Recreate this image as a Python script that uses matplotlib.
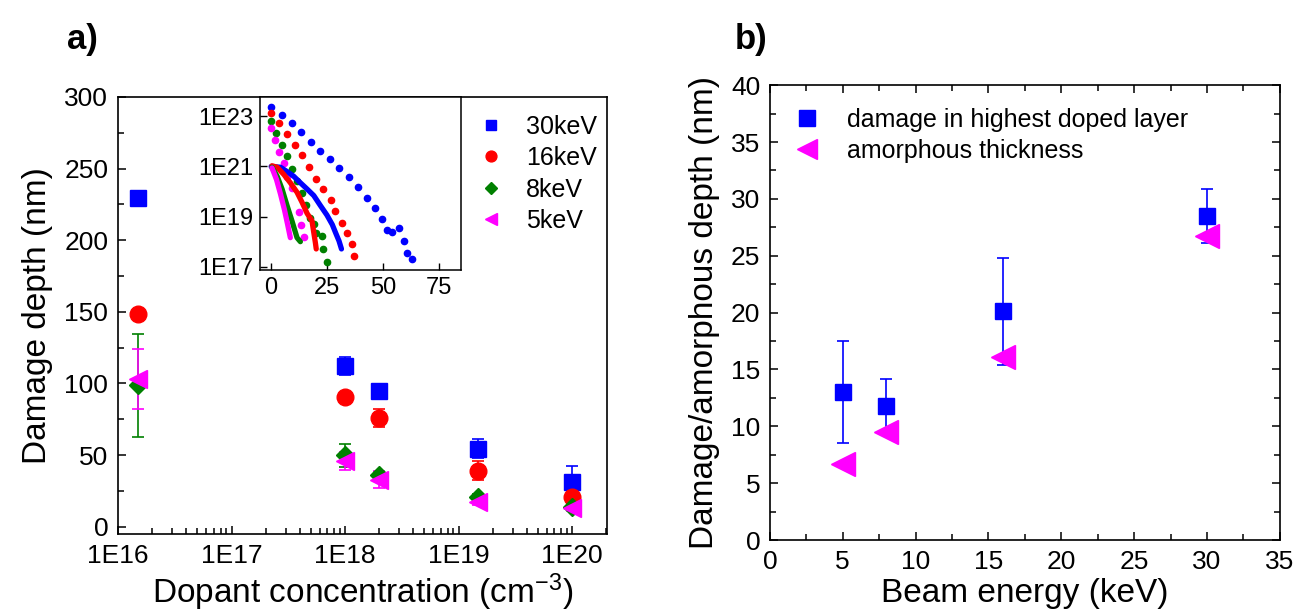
import numpy as np
import matplotlib
matplotlib.use('Agg')
import matplotlib.pyplot as plt
from matplotlib.lines import Line2D
from matplotlib.ticker import FuncFormatter, FixedLocator, MultipleLocator, LogLocator, NullFormatter

plt.rcParams['font.family'] = ['Liberation Sans', 'DejaVu Sans']
plt.rcParams['mathtext.default'] = 'regular'

# --- (a) damage depth vs dopant concentration ---
conc = [1.5e16, 1e18, 2e18, 1.5e19, 1e20]
depth_30 = [229.6, 112.2, 94.4, 54.5, 31.5]
err_30 = [0, 6.5, 0, 6.5, 11]
depth_16 = [148.5, 90.8, 75.8, 39.2, 21.0]
err_16 = [0, 0, 6.5, 6.7, 0]
depth_8 = [98.6, 49.8, 36.4, 21.1, 14.0]
err_8 = [36, 8, 2, 2, 2]
depth_5 = [103.0, 45.8, 32.9, 17.1, 13.0]
err_5 = [21, 6.5, 6, 2, 2]

# inset: simulated profiles (dots) and measured profiles (lines), depth in nm
sim30_x = [0, 4.8, 9.3, 13.4, 17.8, 22.1, 26.3, 30.4, 34.8, 39.1, 42.8, 46.3, 49.7, 51.8, 54.0, 57.3, 59.4, 61.0, 63.0]
sim30_log = [23.37, 23.05, 22.72, 22.36, 21.99, 21.63, 21.28, 20.92, 20.57, 20.2, 19.76, 19.33, 18.89, 18.47, 18.4, 18.53, 18.03, 17.56, 17.32]
sim16_x = [0, 3.7, 7.3, 10.6, 13.9, 17.0, 20.1, 23.4, 26.6, 28.7, 31.9, 34.0, 36.0, 37.3]
sim16_log = [23.13, 22.72, 22.29, 21.87, 21.44, 20.97, 20.52, 20.09, 19.67, 19.24, 18.76, 18.33, 17.91, 17.44]
sim8_x = [0, 2.2, 4.8, 7.2, 9.3, 11.6, 13.7, 15.8, 17.2, 19.4, 20.3, 23.0, 23.3, 25.2]
sim8_log = [22.8, 22.33, 21.87, 21.4, 20.91, 20.44, 19.93, 19.47, 18.96, 18.71, 18.33, 18.23, 17.69, 17.2]
sim5_x = [0, 1.9, 3.7, 5.7, 7.2, 9.4, 12.4, 13.6, 14.9]
sim5_log = [22.54, 22.05, 21.58, 21.12, 20.6, 20.15, 19.18, 18.66, 18.2]

meas30_x = [0, 4.2, 7.1, 10.1, 13.1, 16.1, 19.1, 22.0, 25.0, 27.4, 28.9, 30.4, 31.5]
meas30_log = [21.0, 20.97, 20.8, 20.61, 20.35, 20.1, 19.84, 19.45, 19.06, 18.68, 18.35, 18.03, 17.71]
meas16_x = [0.4, 2.7, 5.7, 8.6, 11.6, 13.8, 16.1, 18.3, 19.0, 19.8, 20.2]
meas16_log = [21.03, 20.97, 20.68, 20.35, 19.97, 19.58, 19.13, 18.83, 18.42, 17.97, 17.71]
meas8_x = [0.4, 2.7, 4.9, 7.1, 9.4, 11.6, 13.1]
meas8_log = [20.97, 20.61, 20.1, 19.45, 18.81, 18.16, 18.0]
meas5_x = [0.4, 2.4, 4.2, 6.0, 7.4, 8.6]
meas5_log = [20.94, 20.48, 19.9, 19.26, 18.68, 18.16]

# --- (b) depth vs beam energy ---
energy = [5, 8, 16, 30]
damage = [13.0, 11.8, 20.1, 28.5]
damage_err = [4.5, 2.4, 4.7, 2.35]
amorph = [6.7, 9.5, 16.1, 26.7]

BLUE, RED, GREEN, MAG = '#0000ff', '#ff0000', '#008000', '#ff00ff'
TICK_FS, LABEL_FS = 19, 24

fig = plt.figure(figsize=(12.94, 6.13), dpi=100)
axA = fig.add_axes([0.0912, 0.129, 0.378, 0.713])
axB = fig.add_axes([0.595, 0.119, 0.394, 0.742])

series = [(depth_30, err_30, 's', BLUE, 11, '30keV'),
          (depth_16, err_16, 'o', RED, 12, '16keV'),
          (depth_8, err_8, 'D', GREEN, 9, '8keV'),
          (depth_5, err_5, '<', MAG, 13, '5keV')]
handles = []
for d, e, m, c, ms, lab in series:
    axA.errorbar(conc, d, yerr=e, fmt=m, color=c, ms=ms, mec=c, ecolor=c,
                 elinewidth=1.2, capsize=4, capthick=1.2)
    handles.append(Line2D([], [], ls='none', marker=m, color=c, ms=ms * 0.65, label=lab))

axA.set_xscale('log')
axA.set_xlim(1e16, 2.04e20)
axA.set_ylim(-5, 300)
axA.xaxis.set_major_locator(FixedLocator([1e16, 1e17, 1e18, 1e19, 1e20]))
axA.xaxis.set_minor_locator(LogLocator(base=10, subs=np.arange(2, 10)))
axA.xaxis.set_minor_formatter(NullFormatter())
axA.xaxis.set_major_formatter(FuncFormatter(lambda v, p: '1E%d' % round(np.log10(v))))
axA.yaxis.set_major_locator(MultipleLocator(50))
axA.yaxis.set_minor_locator(MultipleLocator(25))
axA.tick_params(which='both', direction='in', labelsize=TICK_FS, width=1.1)
axA.tick_params(which='major', length=6, pad=7)
axA.tick_params(which='minor', length=4)
for s in axA.spines.values():
    s.set_linewidth(1.2)
axA.set_xlabel('Dopant concentration (cm$^{-3}$)', fontsize=LABEL_FS, labelpad=3)
axA.set_ylabel('Damage depth (nm)', fontsize=LABEL_FS, labelpad=8)
axA.legend(handles=handles, loc='upper right', bbox_to_anchor=(1.0, 0.982), frameon=False,
           fontsize=18, handletextpad=0.8, labelspacing=0.3, borderaxespad=0, handlelength=1.2)

# inset with the depth profiles
ins = fig.add_axes([0.2009, 0.5595, 0.1553, 0.2822])
for x, lg, c in [(sim30_x, sim30_log, BLUE), (sim16_x, sim16_log, RED),
                 (sim8_x, sim8_log, GREEN), (sim5_x, sim5_log, MAG)]:
    ins.plot(x, 10 ** np.array(lg), 'o', color=c, ms=4.5)
for x, lg, c in [(meas30_x, meas30_log, BLUE), (meas16_x, meas16_log, RED),
                 (meas8_x, meas8_log, GREEN), (meas5_x, meas5_log, MAG)]:
    ins.plot(x, 10 ** np.array(lg), '-', color=c, lw=3.8, solid_capstyle='round')
ins.set_yscale('log')
ins.set_xlim(-5, 85)
ins.set_ylim(7.4e16, 5.9e23)
ins.xaxis.set_major_locator(FixedLocator([0, 25, 50, 75]))
ins.yaxis.set_major_locator(FixedLocator([1e17, 1e19, 1e21, 1e23]))
ins.yaxis.set_minor_locator(LogLocator(base=10, subs=np.arange(1, 10)))
ins.yaxis.set_minor_formatter(NullFormatter())
ins.yaxis.set_major_formatter(FuncFormatter(lambda v, p: '1E%d' % round(np.log10(v))))
ins.tick_params(which='both', direction='in', labelsize=17, width=1.0)
ins.tick_params(which='major', length=5, pad=5)
ins.tick_params(which='minor', length=3)
for s in ins.spines.values():
    s.set_linewidth(1.1)

# panel b
axB.errorbar(energy, damage, yerr=damage_err, fmt='s', color=BLUE, ms=12, ecolor=BLUE,
             elinewidth=1.2, capsize=4, capthick=1.2, zorder=3)
axB.plot(energy, amorph, '<', color=MAG, ms=17, ls='none', zorder=4)
b_handles = [Line2D([], [], ls='none', marker='s', color=BLUE, ms=12,
                    label='damage in highest doped layer'),
             Line2D([], [], ls='none', marker='<', color=MAG, ms=15,
                    label='amorphous thickness')]
axB.set_xlim(0, 35)
axB.set_ylim(0, 40)
axB.xaxis.set_major_locator(MultipleLocator(5))
axB.xaxis.set_minor_locator(MultipleLocator(2.5))
axB.yaxis.set_major_locator(MultipleLocator(5))
axB.yaxis.set_minor_locator(MultipleLocator(2.5))
axB.tick_params(which='both', direction='in', top=True, right=True, labelsize=TICK_FS, width=1.1)
axB.tick_params(which='major', length=6, pad=7)
axB.tick_params(which='minor', length=4)
for s in axB.spines.values():
    s.set_linewidth(1.2)
axB.set_xlabel('Beam energy (keV)', fontsize=LABEL_FS, labelpad=3)
axB.set_ylabel('Damage/amorphous depth (nm)', fontsize=LABEL_FS, labelpad=8)
axB.legend(handles=b_handles, loc='upper left', frameon=False, fontsize=18, handletextpad=1.0,
           labelspacing=0.3, borderaxespad=0.5, handlelength=1.2)

fig.text(0.052, 0.935, 'a)', fontsize=25, fontweight='bold', va='center')
fig.text(0.568, 0.935, 'b)', fontsize=25, fontweight='bold', va='center')

fig.savefig('out.png', dpi=100)
